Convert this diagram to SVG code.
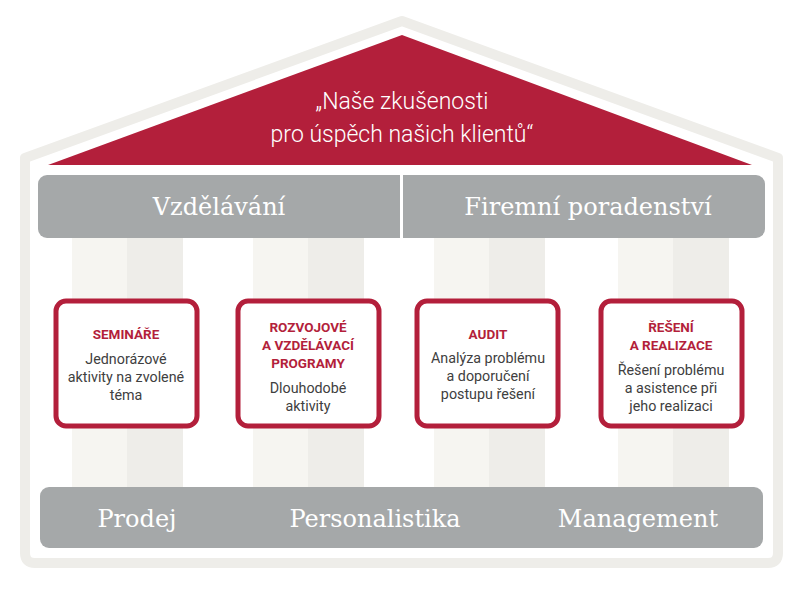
<svg xmlns="http://www.w3.org/2000/svg" width="804" height="600" viewBox="0 0 804 600">
<style>
.col1{fill:#f6f5f1}
.col2{fill:#eeede9}
.bar{fill:#a5a8a9}
.card{fill:#fff;stroke:#b31f3b;stroke-width:5}
.bartxt{font-family:"DejaVu Serif",serif;font-size:24px;fill:#fff;text-anchor:middle}
.ttl{font-family:Roboto,"Liberation Sans",sans-serif;font-weight:700;font-size:13.5px;fill:#b31f3b;text-anchor:middle}
.body{font-family:Roboto,"Liberation Sans",sans-serif;font-size:14.3px;fill:#404040;text-anchor:middle}
.roof{font-family:Roboto,"Liberation Sans",sans-serif;font-weight:300;font-size:23px;fill:#fff;text-anchor:middle}
</style>
<rect width="804" height="600" fill="#fff"/>
<g id="house">
<path d="M402,21 L778,158 L778,553 Q778,563 768,563 L35,563 Q25,563 25,553 L25,158 Z" fill="#fff" stroke="#eeede9" stroke-width="10" stroke-linejoin="round"/>
</g>
<g id="roof">
<path d="M402,35 L752,165 L48,165 Z" fill="#b31f3b"/>
<text class="roof" x="402" y="109">„Naše zkušenosti</text>
<text class="roof" x="402" y="142">pro úspěch našich klientů“</text>
</g>
<g id="columns">
<rect class="col1" x="72" y="238" width="55" height="250"/><rect class="col2" x="127" y="238" width="56" height="250"/>
<rect class="col1" x="253" y="238" width="55" height="250"/><rect class="col2" x="308" y="238" width="56" height="250"/>
<rect class="col1" x="434" y="238" width="55" height="250"/><rect class="col2" x="489" y="238" width="56" height="250"/>
<rect class="col1" x="618" y="238" width="55" height="250"/><rect class="col2" x="673" y="238" width="56" height="250"/>
</g>
<g id="top-bar">
<rect class="bar" x="38" y="175" width="727" height="63" rx="9"/>
<rect x="400" y="175" width="3" height="63" fill="#fff"/>
<text class="bartxt" x="219" y="215">Vzdělávání</text>
<text class="bartxt" x="588" y="215">Firemní poradenství</text>
</g>
<g id="card-seminare">
<rect class="card" x="56" y="301" width="141" height="125" rx="10"/>
<text class="ttl" x="126" y="339">SEMINÁŘE</text>
<text class="body" x="126" y="364">Jednorázové</text>
<text class="body" x="126" y="382">aktivity na zvolené</text>
<text class="body" x="126" y="400">téma</text>
</g>
<g id="card-programy">
<rect class="card" x="238" y="301" width="141" height="125" rx="10"/>
<text class="ttl" x="308" y="332">ROZVOJOVÉ</text>
<text class="ttl" x="308" y="350">A VZDĚLÁVACÍ</text>
<text class="ttl" x="308" y="368">PROGRAMY</text>
<text class="body" x="308" y="393">Dlouhodobé</text>
<text class="body" x="308" y="411">aktivity</text>
</g>
<g id="card-audit">
<rect class="card" x="417" y="301" width="141" height="125" rx="10"/>
<text class="ttl" x="488" y="339">AUDIT</text>
<text class="body" x="488" y="363">Analýza problému</text>
<text class="body" x="488" y="381">a doporučení</text>
<text class="body" x="488" y="399">postupu řešení</text>
</g>
<g id="card-reseni">
<rect class="card" x="601" y="301" width="141" height="125" rx="10"/>
<text class="ttl" x="671" y="332">ŘEŠENÍ</text>
<text class="ttl" x="671" y="350">A REALIZACE</text>
<text class="body" x="671" y="375">Řešení problému</text>
<text class="body" x="671" y="393">a asistence při</text>
<text class="body" x="671" y="411">jeho realizaci</text>
</g>
<g id="bottom-bar">
<rect class="bar" x="40" y="487" width="723" height="61" rx="9"/>
<text class="bartxt" x="137" y="527">Prodej</text>
<text class="bartxt" x="375" y="527">Personalistika</text>
<text class="bartxt" x="638" y="527">Management</text>
</g>
<g id="connectors"/>
</svg>
